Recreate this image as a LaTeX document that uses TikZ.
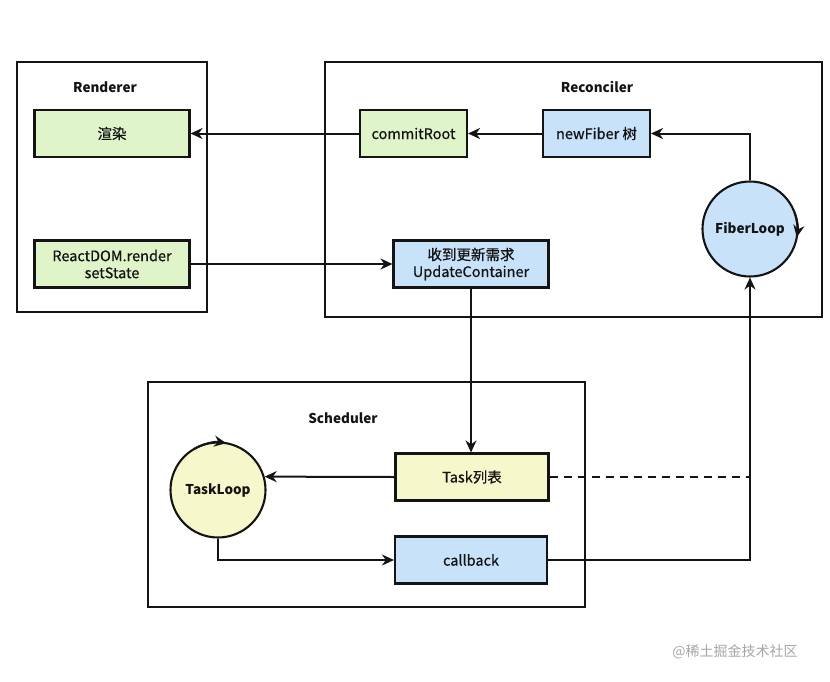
\documentclass[tikz,border=0pt]{standalone}
\usepackage{fontspec}
\setmainfont{Noto Sans CJK SC}
\newfontfamily\boxfont[FakeBold=0.6]{Noto Sans CJK SC}
\usetikzlibrary{arrows.meta,calc}
\definecolor{gfill}{RGB}{223,244,200}
\definecolor{bfill}{RGB}{200,226,249}
\definecolor{yfill}{RGB}{246,247,202}
\definecolor{ink}{RGB}{20,20,20}
\begin{document}
\begin{tikzpicture}[x=1pt,y=1pt,
  font=\boxfont\fontsize{14.5}{17}\selectfont,
  container/.style={draw=ink,line width=2.2pt},
  title/.style={font=\fontsize{13.5}{16}\selectfont\bfseries,text=ink},
  box/.style={draw=ink,line width=2.1pt,rectangle,minimum width=155pt,minimum height=47pt,align=center,text=ink,inner sep=2pt},
  gbox/.style={box,fill=gfill},
  bbox/.style={box,fill=bfill},
  ybox/.style={box,fill=yfill},
  loopnode/.style={draw=ink,line width=2.1pt,circle,minimum size=95pt,inner sep=0pt,text=ink,font=\fontsize{13.5}{16}\selectfont\bfseries},
  arr/.style={draw=ink,line width=2pt,-{Stealth[length=12pt,width=11pt]}},
  conn/.style={draw=ink,line width=2pt},
]
\fill[white] (0,0) rectangle (830,-681);
\useasboundingbox (0,0) rectangle (830,-681);

% containers
\draw[container] (17,-62) rectangle (207,-312);
\draw[container] (325,-62) rectangle (822,-317);
\draw[container] (148,-382) rectangle (585,-607);
\node[title] (tR) at (105,-87) {Renderer};
\node[title] (tC) at (597,-87) {Reconciler};
\node[title] (tS) at (343,-418) {Scheduler};

% nodes
\node[gbox] (render) at (112,-133.5) {渲染};
\node[gbox] (react) at (112,-264) {ReactDOM.render\\setState};
\node[gbox,minimum width=107pt] (commit) at (413.5,-133.5) {commitRoot};
\node[bbox,minimum width=107pt] (newf) at (596.5,-133.5) {newFiber 树};
\node[bbox] (upd) at (471,-264) {收到更新需求\\UpdateContainer};
\node[loopnode,fill=bfill] (fiber) at (750,-229) {FiberLoop};
\node[ybox,minimum width=153pt] (task) at (472,-477) {Task列表};
\node[bbox,minimum width=152pt] (cb) at (471,-560) {callback};
\node[loopnode,fill=yfill] (tl) at (218,-490) {TaskLoop};
\coordinate (join) at (task.east -| fiber.south);

% connectors
\draw[arr] (commit.west) -- (render.east);
\draw[arr] (newf.west) -- (commit.east);
\draw[arr] (fiber.north) |- (newf.east);
\draw[arr] (react.east) -- (upd.west);
\draw[arr] (upd.south) -- (upd.south |- task.north);
\draw[arr] (task.west) -- (tl.16);
\draw[arr] (tl.south) |- (cb.west);
\draw[arr] (cb.east) -| (fiber.south);
\draw[conn,dashed,dash pattern=on 8pt off 6pt] (task.east) -- (join);

% loop arrows on circles
\draw[arr] ([shift={(20:47.5)}]fiber.center) arc[start angle=20,end angle=-10,radius=47.5];
\draw[arr] ([shift={(120:47.5)}]tl.center) arc[start angle=120,end angle=80,radius=47.5];

% credit
\node[text=gray!70,font=\fontsize{14}{16}\selectfont] (credit) at (735,-652) {@稀土掘金技术社区};
\end{tikzpicture}
\end{document}
